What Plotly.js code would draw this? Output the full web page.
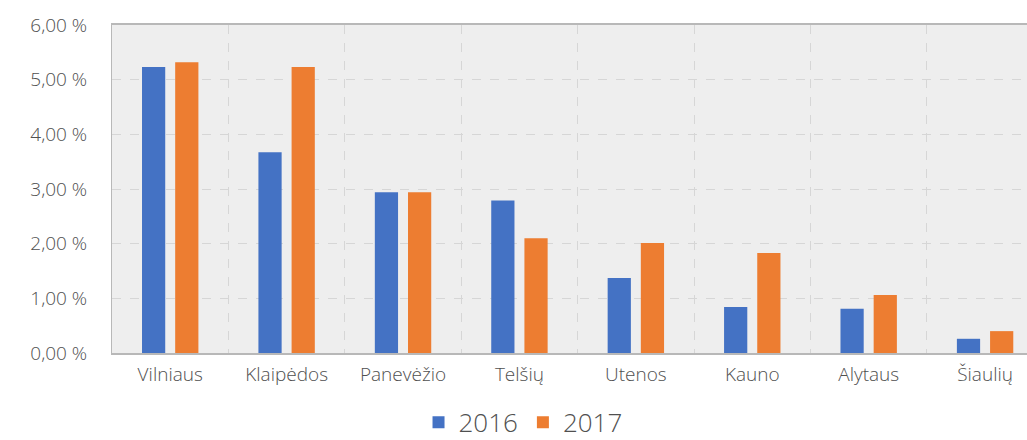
<!DOCTYPE html>
<html><head><meta charset="utf-8">
<script src="https://cdn.plot.ly/plotly-3.0.1.min.js"></script>
<style>html,body{margin:0;padding:0;background:#fff}</style>
</head><body><div id="chart" style="width:1027px;height:440px"></div>
<script>
const regions = ["Vilniaus","Klaipėdos","Panevėžio","Telšių","Utenos","Kauno","Alytaus","Šiaulių"];
const values2016 = [5.23, 3.67, 2.94, 2.79, 1.37, 0.84, 0.81, 0.26];
const values2017 = [5.32, 5.23, 2.94, 2.10, 2.01, 1.83, 1.06, 0.40];
const yTickVals = [0,1,2,3,4,5,6];
const yTickText = ["0,00 %","1,00 %","2,00 %","3,00 %","4,00 %","5,00 %","6,00 %"];

const fam = "'Open Sans', Lato, sans-serif";
const data = [
  {type:"bar", name:"2016", x:regions, y:values2016, marker:{color:"#4472C4"}},
  {type:"bar", name:"2017", x:regions, y:values2017, marker:{color:"#ED7D31"}}
];
const layout = {
  width:1027, height:440,
  margin:{l:112, r:0, t:25, b:87, autoexpand:false},
  paper_bgcolor:"#fff", plot_bgcolor:"#eeeeee",
  barmode:"group", bargap:0.43, bargroupgap:0.3,
  font:{family:fam, color:"#505050", size:19, weight:300},
  showlegend:true,
  legend:{orientation:"h", x:0.335, xanchor:"left", y:-0.14, yanchor:"top",
          font:{family:fam, size:26, color:"#505050", weight:300}, itemwidth:30, tracegroupgap:0},
  xaxis:{type:"category", range:[-0.5, 7.36], tickson:"boundaries", ticks:"", showgrid:true,
         gridcolor:"#d6d6d6", griddash:"dash", gridwidth:1,
         showline:true, linecolor:"#b8b8b8", linewidth:2, mirror:true,
         ticklabelstandoff:3, tickfont:{size:19}, fixedrange:true, automargin:false},
  yaxis:{range:[0,6], tickvals:yTickVals, ticktext:yTickText, showgrid:true,
         gridcolor:"#d6d6d6", griddash:"dash", gridwidth:1, zeroline:false,
         showline:true, linecolor:"#b8b8b8", linewidth:1,
         ticks:"", ticklabelstandoff:20, tickfont:{size:19}, automargin:false}
};
Plotly.newPlot("chart", data, layout, {displayModeBar:false, staticPlot:true});
</script></body></html>
